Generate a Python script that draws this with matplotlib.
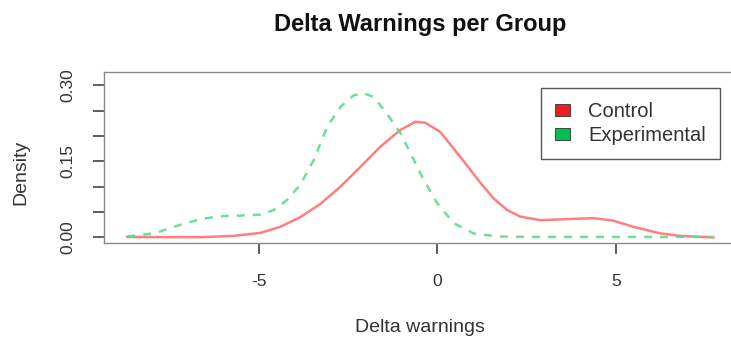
import matplotlib
matplotlib.use("Agg")
import matplotlib.pyplot as plt
from matplotlib.patches import Patch

plt.rcParams['font.family'] = ['Liberation Sans', 'DejaVu Sans']

# density curves
control_x = [-8.67, -7.5, -6.6, -5.7, -4.94, -4.39, -3.83, -3.27, -2.71, -2.15,
             -1.59, -1.03, -0.61, -0.34, 0.08, 0.64, 1.20, 1.57, 1.95, 2.32,
             2.88, 3.62, 4.37, 4.92, 5.48, 6.23, 6.79, 7.72]
control_y = [0.001, 0.0005, 0.0005, 0.003, 0.009, 0.021, 0.040, 0.066, 0.100, 0.139,
             0.179, 0.212, 0.228, 0.226, 0.208, 0.159, 0.108, 0.077, 0.054, 0.041,
             0.034, 0.036, 0.038, 0.033, 0.021, 0.008, 0.003, 0.000]

exper_x = [-8.67, -7.92, -7.18, -6.62, -6.06, -5.50, -4.94, -4.57, -4.20, -3.83,
           -3.46, -3.08, -2.71, -2.34, -2.06, -1.78, -1.41, -1.03, -0.75, -0.38,
           0.0, 0.46, 1.01, 1.67, 2.5, 4.0, 6.0, 7.72]
exper_y = [0.002, 0.008, 0.025, 0.036, 0.042, 0.043, 0.045, 0.054, 0.074, 0.104,
           0.152, 0.218, 0.257, 0.280, 0.284, 0.277, 0.244, 0.205, 0.166, 0.113,
           0.067, 0.028, 0.008, 0.002, 0.001, 0.001, 0.001, 0.001]

x_ticks = [-5, 0, 5]
y_ticks = [0.0, 0.05, 0.10, 0.15, 0.20, 0.25, 0.30]
y_labels = ['0.00', '', '', '0.15', '', '', '0.30']

fig = plt.figure(figsize=(7.31, 3.42), dpi=100)
W, H = 731, 342
ax = fig.add_axes([103.7 / W, (H - 243) / H, (737 - 103.7) / W, (243 - 72) / H])

ax.plot(control_x, control_y, color='#FF7070', lw=1.8, alpha=0.9)
ax.plot(exper_x, exper_y, color='#5EDC8C', lw=1.8, ls=(0, (3.2, 3.2)), alpha=0.9)

ax.set_xlim(-9.33, 8.38)
ax.set_ylim(-0.011, 0.326)

for s in ax.spines.values():
    s.set_color('#888888')
    s.set_linewidth(1.0)

ax.set_xticks(x_ticks)
ax.set_xticklabels([str(v) for v in x_ticks], fontsize=12.5, color='#333333')
ax.set_yticks(y_ticks)
ax.set_yticklabels(y_labels, fontsize=12.5, color='#333333', rotation=90,
                   va='center', ha='center')
ax.tick_params(direction='out', length=8, width=1.2, color='#444444')
ax.tick_params(axis='x', pad=14)
ax.tick_params(axis='y', pad=18)

fig.text(420 / W, 1 - 327 / H, 'Delta warnings', ha='center', va='center',
         fontsize=14, color='#333333')
fig.text(21 / W, 1 - 172 / H, 'Density', ha='center', va='center', rotation=90,
         fontsize=14, color='#333333')
fig.text(420 / W, 1 - 31 / H, 'Delta Warnings per Group', ha='center', va='baseline',
         fontsize=17, fontweight='bold', color='#111111')

handles = [Patch(facecolor='#EE1C25', edgecolor='#333333', lw=0.6, label='Control'),
           Patch(facecolor='#00C050', edgecolor='#333333', lw=0.6, label='Experimental')]
leg = ax.legend(handles=handles, loc='upper left',
                bbox_to_anchor=((541 - 103.7) / (737 - 103.7), (243 - 88) / (243 - 72)),
                fontsize=14.5, fancybox=False, framealpha=1, edgecolor='#555555',
                handlelength=0.75, handleheight=0.6, handletextpad=0.9, borderpad=0.7,
                labelspacing=0.25, borderaxespad=0)
leg.get_frame().set_linewidth(1.0)
for t in leg.get_texts():
    t.set_color('#333333')

fig.savefig('out.png', dpi=100)
